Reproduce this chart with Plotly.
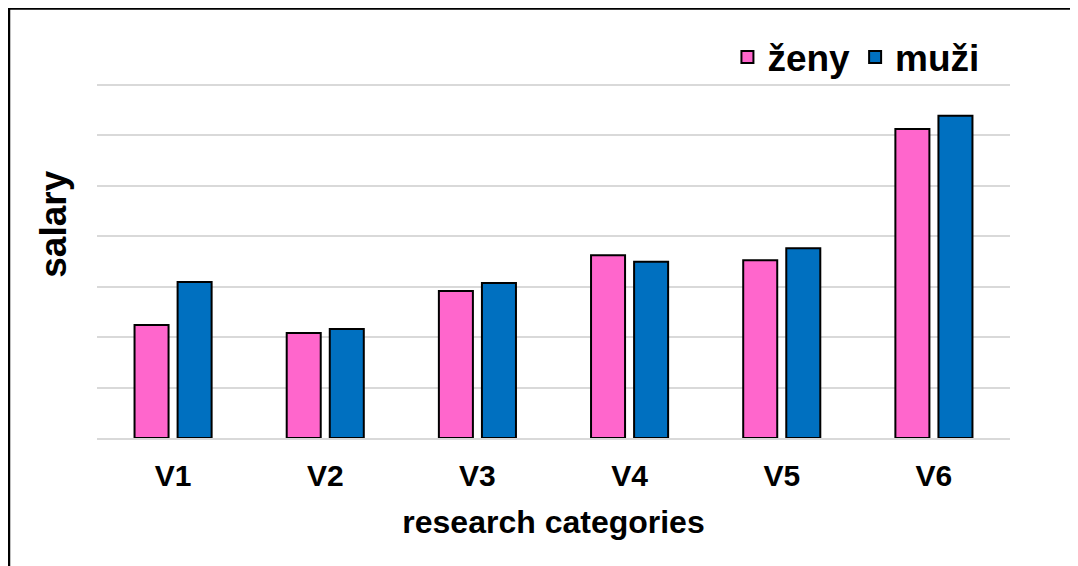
import plotly.graph_objects as go

categories = ["V1", "V2", "V3", "V4", "V5", "V6"]
zeny = [2.24, 2.08, 2.91, 3.62, 3.52, 6.12]
muzi = [3.09, 2.16, 3.07, 3.49, 3.76, 6.38]
series_names = ["ženy", "muži"]

FONT = "Liberation Sans, Arial, sans-serif"

# plot area in figure pixels
L, R_EDGE, BOTTOM = 89, 1002, 430
H = 353 * 7.05 / 7
TOP = BOTTOM - H
W = R_EDGE - L

fig = go.Figure()
fig.add_trace(go.Bar(x=categories, y=zeny, name=series_names[0],
                     marker=dict(color="#FF66CC", line=dict(color="black", width=2))))
fig.add_trace(go.Bar(x=categories, y=muzi, name=series_names[1],
                     marker=dict(color="#0070C0", line=dict(color="black", width=2))))

fig.update_layout(
    width=1078, height=566,
    margin=dict(l=L, r=1078 - R_EDGE, t=TOP, b=566 - BOTTOM),
    paper_bgcolor="white", plot_bgcolor="white",
    barmode="group", bargap=0.434, bargroupgap=0.21,
    font=dict(family=FONT, color="black"),
    legend=dict(orientation="h", x=0.972, xanchor="right", y=1.069, yanchor="middle",
                font=dict(size=37, family=FONT, weight="bold"),
                itemwidth=30, traceorder="normal", bgcolor="rgba(0,0,0,0)"),
    xaxis=dict(title=dict(text="research categories", font=dict(size=32, family=FONT, weight="bold"), standoff=20),
               tickfont=dict(size=30, family=FONT, weight="bold"), showgrid=False, automargin=False,
               showline=True, linecolor="#d9d9d9", linewidth=2, ticks="", ticklabelstandoff=10),
    yaxis=dict(range=[0, 7.05], dtick=1, showticklabels=False, showgrid=True, automargin=False,
               gridcolor="#d9d9d9", gridwidth=1.5, zeroline=False, ticks=""),
    annotations=[dict(text="salary", textangle=-90, xref="paper", yref="paper",
                      x=(46 - L) / W, y=(BOTTOM - 217) / H, xanchor="center", yanchor="middle",
                      showarrow=False, font=dict(size=37, family=FONT, weight="bold", color="black"))],
    shapes=[dict(type="rect", xref="paper", yref="paper",
                 x0=(1 - L) / W, x1=(1100 - L) / W,
                 y0=(BOTTOM - 600) / H, y1=(BOTTOM - 1) / H,
                 line=dict(color="black", width=2.5), fillcolor="rgba(0,0,0,0)", layer="above")],
)

fig.write_html("out.html")
